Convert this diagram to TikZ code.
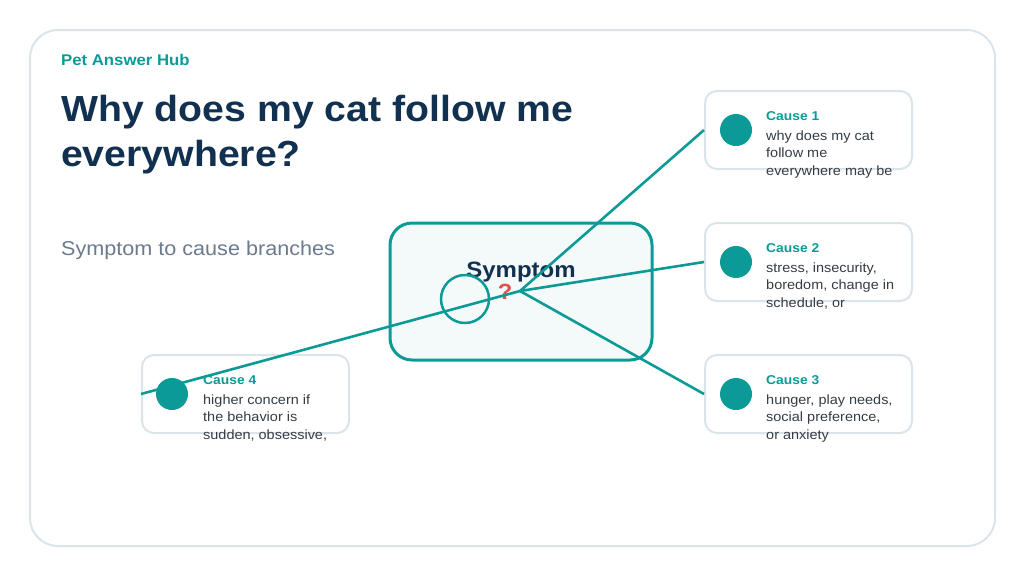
\documentclass[tikz,border=0pt]{standalone}
\usepackage{fontspec}
\setmainfont[FakeStretch=1.08]{Liberation Sans}
\usetikzlibrary{positioning,calc}
\definecolor{hubteal}{HTML}{0B9A96}
\definecolor{titlenavy}{HTML}{12304F}
\definecolor{subgray}{HTML}{6B7A8F}
\definecolor{bodygray}{HTML}{353C45}
\definecolor{framegray}{HTML}{DAE4EB}
\definecolor{symfill}{HTML}{F4F9FA}
\definecolor{qred}{HTML}{E0524D}
\tikzset{
  causebox/.style={draw=framegray, line width=2pt, rounded corners=12pt,
    fill=white, minimum width=207pt, minimum height=78pt, inner sep=0pt},
  causedot/.style={circle, fill=hubteal, minimum size=32pt, inner sep=0pt},
  causehead/.style={anchor=base west, inner sep=0pt, text=hubteal,
    font=\fontsize{12.8}{16}\selectfont\bfseries},
  causetext/.style={anchor=base west, inner sep=0pt, text=bodygray,
    font=\fontsize{13.4}{17.5}\selectfont},
  link/.style={hubteal, line width=2.6pt},
}
\begin{document}
\begin{tikzpicture}[x=1pt, y=-1pt]
  \useasboundingbox (0,0) rectangle (1024,576);
  \draw[framegray, line width=2pt, rounded corners=28pt] (30,30) rectangle (995,546);
  % header
  \node[anchor=base west, inner sep=0pt, text=hubteal, font=\fontsize{15.5}{19}\selectfont\bfseries]
    (brand) at (61,65) {Pet Answer Hub};
  \node[anchor=base west, inner sep=0pt, text=titlenavy, font=\fontsize{36.3}{40}\selectfont\bfseries]
    (title1) at (61,121.5) {Why does my cat follow me};
  \node[anchor=base west, inner sep=0pt, text=titlenavy, font=\fontsize{36.3}{40}\selectfont\bfseries]
    (title2) at (61,166.5) {everywhere?};
  \node[anchor=base west, inner sep=0pt, text=subgray, font=\fontsize{20}{23}\selectfont]
    (sub) at (61,255) {Symptom to cause branches};
  % symptom box
  \node[draw=hubteal, line width=3pt, fill=symfill, rounded corners=22pt,
    minimum width=262pt, minimum height=137pt, inner sep=0pt] (symbox) at (521,291.5) {};
  \node[text=titlenavy, font=\fontsize{22.2}{26}\selectfont\bfseries, inner sep=0pt]
    (symlabel) at (521,272) {Symptom};
  \node[text=qred, font=\fontsize{22}{26}\selectfont\bfseries, inner sep=0pt]
    (qmark) at (505,292) {?};
  \node[draw=hubteal, line width=2.5pt, circle, minimum size=48pt, inner sep=0pt]
    (ring) at (465,299) {};
  \coordinate (hub) at (520,291);
  % causes
  \node[causebox] (c1) at (808.5,130) {};
  \node[causebox] (c2) at (808.5,262) {};
  \node[causebox] (c3) at (808.5,394) {};
  \node[causebox] (c4) at (245.5,394) {};
  \node[causedot] (d1) at (736,130) {};
  \node[causedot] (d2) at (736,262) {};
  \node[causedot] (d3) at (736,394) {};
  \node[causedot] (d4) at (172,394) {};
  \node[causehead] (h1) at (766,120) {Cause 1};
  \node[causetext] at (766,140) {why does my cat};
  \node[causetext] at (766,157.5) {follow me};
  \node[causetext] at (766,175) {everywhere may be};
  \node[causehead] (h2) at (766,252) {Cause 2};
  \node[causetext] at (766,272) {stress, insecurity,};
  \node[causetext] at (766,289.5) {boredom, change in};
  \node[causetext] at (766,307) {schedule, or};
  \node[causehead] (h3) at (766,384) {Cause 3};
  \node[causetext] at (766,404) {hunger, play needs,};
  \node[causetext] at (766,421.5) {social preference,};
  \node[causetext] at (766,439) {or anxiety};
  \node[causehead] (h4) at (203,384) {Cause 4};
  \node[causetext] at (203,404) {higher concern if};
  \node[causetext] at (203,421.5) {the behavior is};
  \node[causetext] at (203,439) {sudden, obsessive,};
  % branches
  \draw[link] (hub) -- (c1.west);
  \draw[link] (hub) -- (c2.west);
  \draw[link] (hub) -- (c3.west);
  \draw[link] (hub) -- (c4.west);
\end{tikzpicture}
\end{document}
